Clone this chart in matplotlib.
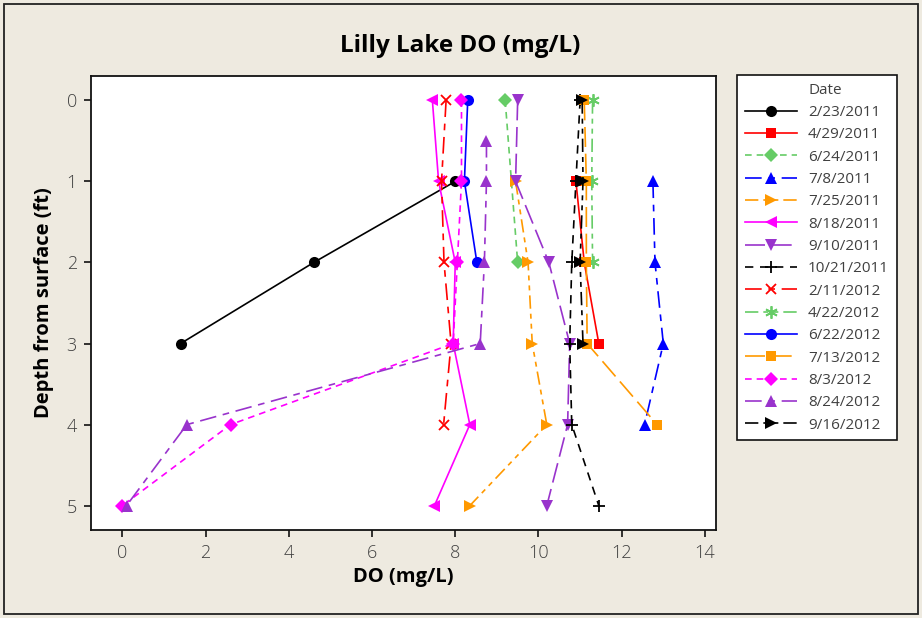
import matplotlib
matplotlib.use("Agg")
from matplotlib import pyplot as plt
from matplotlib.lines import Line2D
from matplotlib.patches import Rectangle

# sampling dates (legend order)
dates = ['2/23/2011', '4/29/2011', '6/24/2011', '7/8/2011', '7/25/2011',
         '8/18/2011', '9/10/2011', '10/21/2011', '2/11/2012', '4/22/2012',
         '6/22/2012', '7/13/2012', '8/3/2012', '8/24/2012', '9/16/2012']

# depth (ft) for each date
depths = [
    [1, 2, 3],
    [1, 2, 3],
    [0, 2],
    [1, 2, 3, 4],
    [1, 2, 3, 4, 5],
    [0, 1, 2, 3, 4, 5],
    [0, 1, 2, 3, 4, 5],
    [0, 1, 2, 3, 4, 5],
    [0, 1, 2, 3, 4],
    [0, 1, 2],
    [0, 1, 2],
    [0, 1, 2, 3, 4],
    [0, 1, 2, 3, 4, 5],
    [0.5, 1, 2, 3, 4, 5],
    [0, 1, 2, 3],
]

# dissolved oxygen (mg/L)
do_mgl = [
    [8.0, 4.6, 1.4],
    [10.9, 11.1, 11.45],
    [9.2, 9.5],
    [12.75, 12.8, 13.0, 12.55],
    [9.45, 9.75, 9.85, 10.2, 8.35],
    [7.45, 7.6, 8.0, 7.95, 8.35, 7.5],
    [9.5, 9.45, 10.25, 10.75, 10.7, 10.2],
    [11.0, 10.9, 10.8, 10.75, 10.8, 11.45],
    [7.78, 7.67, 7.73, 7.9, 7.72],
    [11.3, 11.28, 11.3],
    [8.3, 8.22, 8.52],
    [11.1, 11.15, 11.15, 11.17, 12.85],
    [8.15, 8.15, 8.05, 7.95, 2.6, 0.0],
    [8.75, 8.75, 8.7, 8.6, 1.55, 0.1],
    [11.05, 11.07, 11.0, 11.07],
]

green = '#66CC66'
orange = '#FF9900'
purple = '#9933CC'
colors = ['black', 'red', green, 'blue', orange, 'magenta', purple, 'black',
          'red', green, 'blue', orange, 'magenta', purple, 'black']
markers = ['o', 's', 'D', '^', '>', '<', 'v', '+', 'x', (6, 2, 0),
           'o', 's', 'D', '^', '>']
msizes = [8, 7.5, 7, 8.5, 8.5, 8.5, 8.5, 9, 7.5, 9, 8, 7.5, 7, 8.5, 8.5]
styles = ['-', '-', (0, (4, 3)), (0, (10, 4, 4, 4)), (0, (8, 3, 3, 3, 3, 3)),
          '-', (0, (12, 4)), (0, (5, 4)), (0, (10, 4, 4, 4)),
          (0, (8, 3, 3, 3, 3, 3)), '-', (0, (12, 4)), (0, (4, 3)),
          (0, (10, 4, 4, 4)), (0, (8, 3, 3, 3, 3, 3))]

bg = '#EEEAE0'
grey = '#404040'
fnt = 'Open Sans'

fig = plt.figure(figsize=(9.22, 6.18), dpi=100, facecolor=bg)
fig.patches.append(Rectangle((4 / 922, 4 / 618), 914 / 922, 610 / 618,
                             transform=fig.transFigure, fill=False,
                             edgecolor='#222222', linewidth=1.3))

ax = fig.add_axes([0.0984, 0.1424, 0.6779, 0.7346])
ax.set_facecolor('white')

handles = [Line2D([], [], linestyle='none', label='Date')]
for i in range(len(dates)):
    ln, = ax.plot(do_mgl[i], depths[i], color=colors[i], marker=markers[i],
                  markersize=msizes[i], markeredgewidth=1.3 if markers[i] in ('+', 'x', (6, 2, 0)) else 0,
                  markeredgecolor=colors[i], linestyle=styles[i],
                  linewidth=1.2, label=dates[i])
    handles.append(ln)

ax.set_xlim(-0.76, 14.26)
ax.set_ylim(5.3, -0.3)
ax.set_xticks(range(0, 15, 2))
ax.set_yticks(range(0, 6))
for s in ax.spines.values():
    s.set_linewidth(1.3)
    s.set_color('#111111')
ax.tick_params(direction='out', length=5, width=1.2, color='#111111',
               labelsize=13, labelcolor=grey, pad=5)
for lab in ax.get_xticklabels() + ax.get_yticklabels():
    lab.set_fontfamily(fnt)
    lab.set_fontweight('light')

ax.set_xlabel('DO (mg/L)', fontsize=14.5, fontweight='bold', family=fnt,
              labelpad=4)
ax.set_ylabel('Depth from surface (ft)', fontsize=14.5, fontweight='bold',
              family=fnt, labelpad=9)
fig.text(0.499, 0.925, 'Lilly Lake DO (mg/L)', fontsize=17.5, fontweight='bold',
         family=fnt, ha='center', va='center')

leg = fig.legend(handles=handles, loc='upper left',
                 bbox_to_anchor=(737 / 922, 1 - 75 / 618),
                 bbox_transform=fig.transFigure, frameon=True, fancybox=False,
                 edgecolor='#111111', framealpha=1, handlelength=3.4,
                 handletextpad=0.75, labelspacing=0.48, borderpad=0.5,
                 borderaxespad=0, prop={'family': fnt, 'size': 11})
leg.get_frame().set_linewidth(1.2)
for t in leg.get_texts():
    t.set_color(grey)

fig.savefig('out.png', dpi=100, facecolor=bg)
